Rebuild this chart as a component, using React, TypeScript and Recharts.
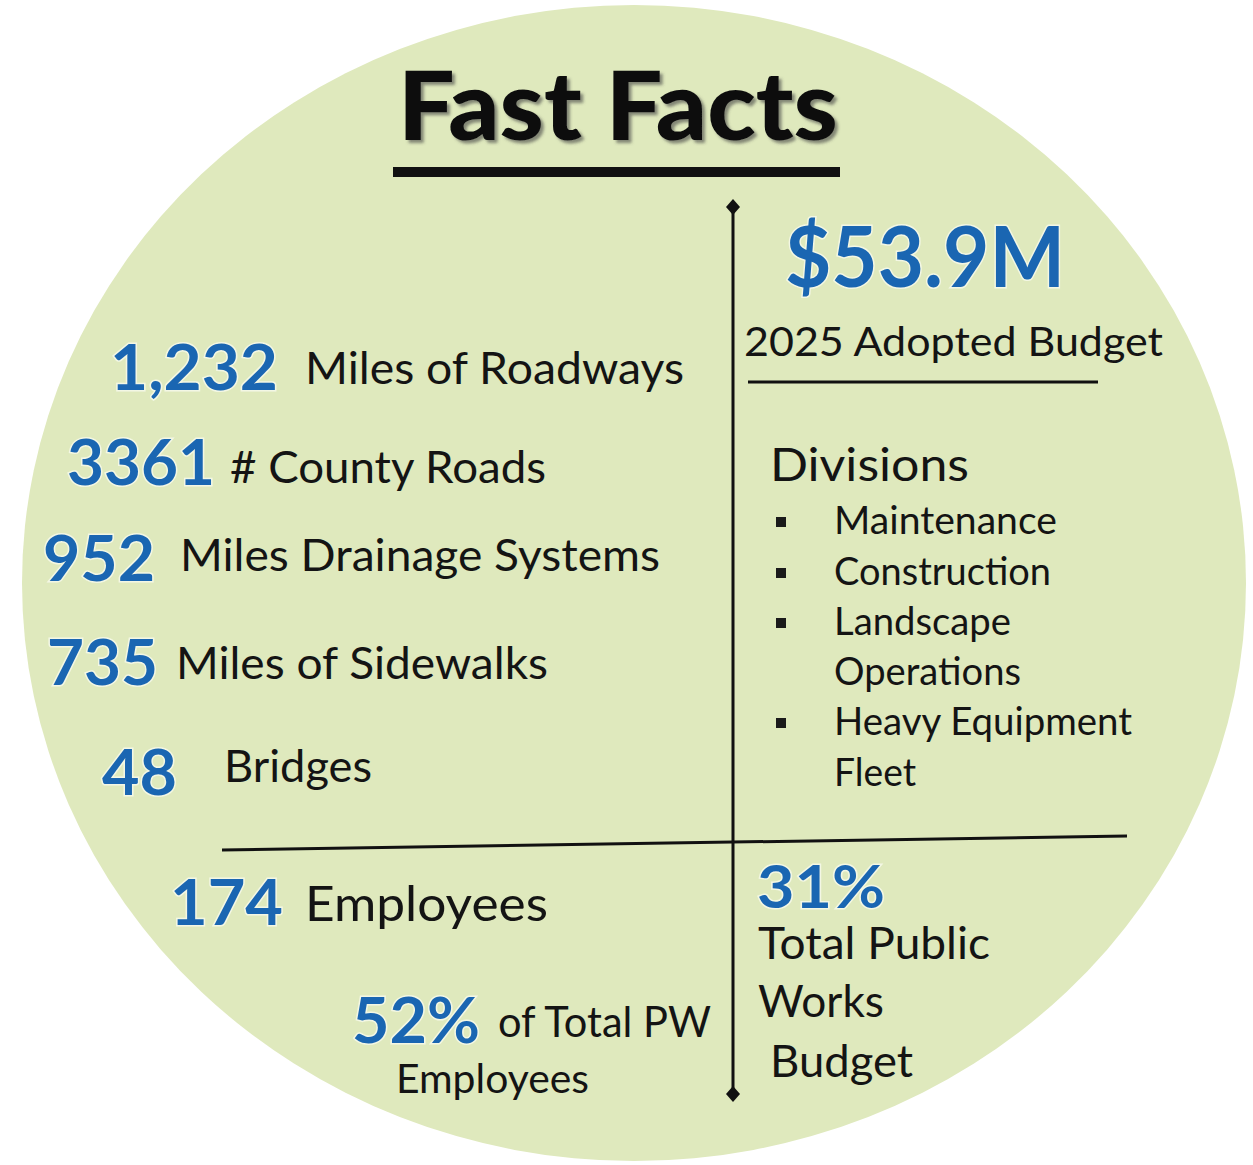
import { ScatterChart, Scatter, XAxis, YAxis } from "recharts";

// facts shown on the sheet
const title = "Fast Facts";
const budgetValue = "$53.9M";
const budgetLabel = "2025 Adopted Budget";
const statValues = ["1,232", "3361", "952", "735", "48"];
const statLabels = ["Miles of Roadways", "# County Roads", "Miles Drainage Systems", "Miles of Sidewalks", "Bridges"];
const divisionsTitle = "Divisions";
const divisionLines = ["Maintenance", "Construction", "Landscape", "Operations", "Heavy Equipment", "Fleet"];
const divisionBullets = [true, true, true, false, true, false];
const employeeValue = "174";
const employeeLabel = "Employees";
const employeeShare = "52%";
const employeeShareLabel = ["of Total PW", "Employees"];
const budgetShare = "31%";
const budgetShareLabel = ["Total Public", "Works", "Budget"];

const W = 1253;
const H = 1165;
const BLUE = "#1a66b2";
const INK = "#141414";
const FONT = "Lato, 'Open Sans', sans-serif";

// layout: [x, baseline, width, fontSize]
const statValuePos = [
    [110, 390, 168, 64],
    [67, 485, 148, 64],
    [43, 581, 112, 64],
    [47, 685, 111, 64],
    [102, 795, 75, 64],
];
const statLabelPos = [
    [305, 384, 379, 44],
    [230, 483, 316, 44],
    [180, 571, 480, 44],
    [176, 679, 372, 44],
    [224, 782, 148, 44],
];
const divisionY = [534, 585, 635, 685, 735, 786];
const divisionWidth = [223, 217, 177, 187, 298, 82];

type Item = { x: number; y: number; text: string; len: number; size: number; bold?: boolean; color: string; halo?: boolean };

const items: Item[] = [
    { x: 785, y: 287, text: budgetValue, len: 280, size: 84, bold: true, color: BLUE, halo: true },
    { x: 744, y: 356, text: budgetLabel, len: 419, size: 40, color: INK },
    ...statValues.map((t, i) => ({ x: statValuePos[i][0], y: statValuePos[i][1], text: t, len: statValuePos[i][2], size: statValuePos[i][3], bold: true, color: BLUE, halo: true })),
    ...statLabels.map((t, i) => ({ x: statLabelPos[i][0], y: statLabelPos[i][1], text: t, len: statLabelPos[i][2], size: statLabelPos[i][3], color: INK })),
    { x: 770, y: 481, text: divisionsTitle, len: 199, size: 46, color: INK },
    ...divisionLines.map((t, i) => ({ x: 834, y: divisionY[i], text: t, len: divisionWidth[i], size: 38, color: INK })),
    { x: 170, y: 925, text: employeeValue, len: 113, size: 64, bold: true, color: BLUE, halo: true },
    { x: 305, y: 921, text: employeeLabel, len: 243, size: 48, color: INK },
    { x: 352, y: 1043, text: employeeShare, len: 128, size: 64, bold: true, color: BLUE, halo: true },
    { x: 498, y: 1037, text: employeeShareLabel[0], len: 213, size: 42, color: INK },
    { x: 396, y: 1093, text: employeeShareLabel[1], len: 193, size: 40, color: INK },
    { x: 757, y: 908, text: budgetShare, len: 128, size: 60, bold: true, color: BLUE, halo: true },
    { x: 758, y: 959, text: budgetShareLabel[0], len: 232, size: 44, color: INK },
    { x: 758, y: 1017, text: budgetShareLabel[1], len: 126, size: 44, color: INK },
    { x: 770, y: 1077, text: budgetShareLabel[2], len: 143, size: 44, color: INK },
];

const bullets = divisionLines
    .map((_, i) => ({ x: 781, y: divisionY[i] - 12, on: divisionBullets[i] }))
    .filter((b) => b.on);

// rule segments, drawn as two-point scatter lines
const underline = [{ x: 393, y: 172 }, { x: 840, y: 172 }];
const divider = [{ x: 733, y: 207 }, { x: 733, y: 1094 }];
const budgetRule = [{ x: 748, y: 382 }, { x: 1098, y: 382 }];
const bottomRule = [{ x: 222, y: 850 }, { x: 1127, y: 836 }];

const TextShape = (props: any) => {
    const p = props.payload as Item;
    return (
        <text
            x={props.cx}
            y={props.cy}
            fontFamily={FONT}
            fontSize={p.size}
            fontWeight={p.bold ? 700 : 400}
            fill={p.color}
            stroke={p.halo ? "#f3f7e4" : "none"}
            strokeWidth={p.halo ? 3 : 0}
            paintOrder="stroke"
            textLength={p.len}
            lengthAdjust="spacingAndGlyphs"
        >
            {p.text}
        </text>
    );
};

const TitleShape = (props: any) => (
    <g>
        <defs>
            <filter id="titleShadow" x="-5%" y="-20%" width="110%" height="140%">
                <feDropShadow dx="3" dy="3" stdDeviation="1.5" floodColor="#444" floodOpacity="0.6" />
            </filter>
        </defs>
        <text x={props.cx} y={props.cy} fontFamily={FONT} fontSize={96} fontWeight={900} fill="#111" textLength={440} lengthAdjust="spacingAndGlyphs" filter="url(#titleShadow)">
            {title}
        </text>
    </g>
);

const EllipseShape = (props: any) => <ellipse cx={props.cx} cy={props.cy} rx={612} ry={578} fill="#dfe9bd" />;

const Diamond = (props: any) => (
    <polygon points={`${props.cx},${props.cy - 8} ${props.cx + 7},${props.cy} ${props.cx},${props.cy + 8} ${props.cx - 7},${props.cy}`} fill="#111" />
);

const NoDot = () => <g />;

const Bullet = (props: any) => <rect x={props.cx - 5} y={props.cy - 5} width={10} height={10} fill="#1a1a1a" />;

export default function App() {
    return (
        <div style={{ position: "absolute", left: 0, top: 0, width: W, height: H, background: "#fff" }}>
            <ScatterChart width={W} height={H} margin={{ top: 0, right: 0, bottom: 0, left: 0 }}>
                <XAxis type="number" dataKey="x" domain={[0, W]} hide allowDataOverflow />
                <YAxis type="number" dataKey="y" domain={[0, H]} reversed hide allowDataOverflow />
                <Scatter data={[{ x: 634, y: 583 }]} shape={EllipseShape} isAnimationActive={false} />
                <Scatter data={[{ x: 398, y: 140 }]} shape={TitleShape} isAnimationActive={false} />
                <Scatter data={underline} line={{ stroke: "#111", strokeWidth: 10 }} shape={NoDot} isAnimationActive={false} />
                <Scatter data={divider} line={{ stroke: "#111", strokeWidth: 3 }} shape={Diamond} isAnimationActive={false} />
                <Scatter data={budgetRule} line={{ stroke: "#111", strokeWidth: 3 }} shape={NoDot} isAnimationActive={false} />
                <Scatter data={bottomRule} line={{ stroke: "#111", strokeWidth: 3 }} shape={NoDot} isAnimationActive={false} />
                <Scatter data={bullets} shape={Bullet} isAnimationActive={false} />
                <Scatter data={items} shape={TextShape} isAnimationActive={false} />
            </ScatterChart>
        </div>
    );
}
